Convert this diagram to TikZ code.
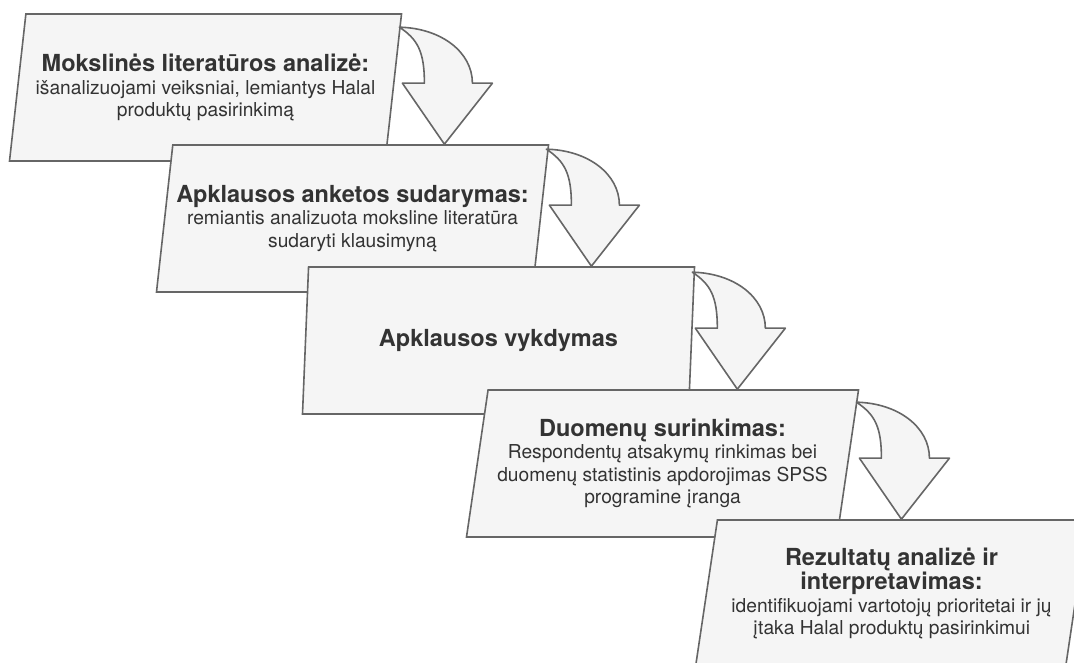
\documentclass[tikz,border=0pt]{standalone}
\usepackage{fontspec}
\setmainfont{TeX Gyre Heros}
\usetikzlibrary{shapes.geometric,calc}
\definecolor{boxfill}{HTML}{F5F5F5}
\definecolor{boxline}{HTML}{666666}
\definecolor{boxtext}{HTML}{333333}
\newcommand{\steptitle}[1]{{\fontsize{23.5}{24}\selectfont\bfseries #1}}
\begin{document}
\begin{tikzpicture}[x=1pt,y=1pt]
    \tikzstyle{stepbox}=[trapezium,trapezium left angle=77,trapezium right angle=103,
      trapezium stretches body,draw=boxline,fill=boxfill,line width=1.6pt,
      minimum height=147pt,minimum width=392pt,inner sep=2pt,align=center,
      text=boxtext,font=\fontsize{19.2}{22.5}\selectfont]
    \tikzstyle{bentarrow}=[draw=boxline,fill=boxfill,line width=1.6pt,line join=round]
    \useasboundingbox (0,0) rectangle (1074,662);
    \clip (0,0) rectangle (1074,662);

      \node (b1) at (205.5,574.5) [stepbox] {\steptitle{Mokslinės literatūros analizė:}\\
        išanalizuojami veiksniai, lemiantys Halal\\ produktų pasirinkimą};
      \node (b2) at (352.5,443.5) [stepbox] {\steptitle{Apklausos anketos sudarymas:}\\
        remiantis analizuota moksline literatūra\\ sudaryti klausimyną};
      \node (b3) at (498.5,321.5) [stepbox] {\steptitle{Apklausos vykdymas}};
      \node (b4) at (662.5,198.5) [stepbox] {\steptitle{Duomenų surinkimas:}\\
        Respondentų atsakymų rinkimas bei\\ duomenų statistinis apdorojimas SPSS\\ programine įranga};
      \node (b5) at (891.5,68.5) [stepbox] {\steptitle{Rezultatų analizė ir}\\ \steptitle{interpretavimas:}\\
        identifikuojami vartotojų prioritetai ir jų\\ įtaka Halal produktų pasirinkimui};

      % bent arrows from each box down to the next one
      \foreach \a/\b in {b1/b2,b2/b3,b3/b4,b4/b5}{
        \path ($(\a.top right corner)+(42,0)$) coordinate (tx);
        \coordinate (t) at (tx |- \b.north);
        \draw[bentarrow] (t) -- ($(t)+(48,61)$) -- ($(t)+(28,61)$)
          .. controls ($(t)+(28,92)$) and ($(t)+(-3,116)$) .. ($(t)+(-45,117)$)
          .. controls ($(t)+(-27,105)$) and ($(t)+(-20,93)$) .. ($(t)+(-20,61)$)
          -- ($(t)+(-42,61)$) -- cycle;
      }
\end{tikzpicture}
\end{document}
